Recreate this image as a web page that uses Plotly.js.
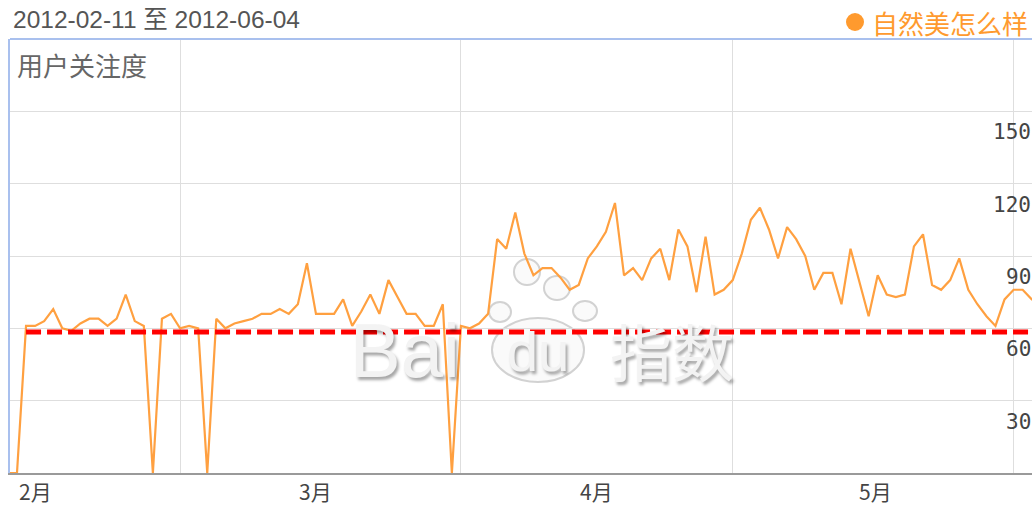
<!DOCTYPE html>
<html>
<head>
<meta charset="utf-8">
<script src="https://cdn.plot.ly/plotly-3.0.1.min.js"></script>
<style>
  html, body { margin: 0; padding: 0; background: #fff; }
  #chart { width: 1032px; height: 508px; }
</style>
</head>
<body>
<div id="chart"></div>
<script>
// Daily attention index for one search term
const startDate = '2012-02-11';
const endDate = '2012-06-04';
const seriesName = '自然美怎么样';
const yAxisName = '用户关注度';

const attention = [
  0, 0, 61, 61, 63, 68, 60, 59, 62, 64,
  64, 61, 64, 74, 63, 61, 0, 64, 66, 60,
  61, 60, 0, 64, 60, 62, 63, 64, 66, 66,
  68, 66, 70, 87, 66, 66, 66, 72, 61, 67,
  74, 66, 80, 73, 66, 66, 61, 61, 70, 0,
  61, 60, 62, 66, 97, 93, 108, 91, 82, 85,
  85, 81, 76, 78, 89, 94, 100, 112, 82, 85,
  80, 89, 93, 80, 101, 94, 75, 98, 74, 76,
  80, 91, 105, 110, 101, 89, 102, 97, 90, 76,
  83, 83, 70, 93, 79, 65, 82, 74, 73, 74,
  94, 99, 78, 76, 80, 89, 76, 70, 65, 61,
  72, 76, 76, 72, 70
];

// Month boundaries (grid) and month label positions
const monthStarts = ['2012-03-01', '2012-04-01', '2012-05-01', '2012-06-01'];
const monthLabelDates = ['2012-02-14', '2012-03-16', '2012-04-16', '2012-05-16 18:00'];
const monthLabels = ['2月', '3月', '4月', '5月'];

const yTickVals = [30, 60, 90, 120, 150];
const baselineValue = 58.5;
const baselineStart = '2012-02-13';

// consecutive calendar days from the start date
function dayList(start, n) {
  const out = [];
  const t0 = Date.parse(start + 'T00:00:00Z');
  for (let i = 0; i < n; i++) {
    out.push(new Date(t0 + i * 86400000).toISOString().slice(0, 10));
  }
  return out;
}
const days = dayList(startDate, attention.length);

// canvas geometry
const W = 1032, H = 508;
const M = { l: 10, r: 0, t: 39, b: 35 };
const plotW = W - M.l - M.r, plotH = H - M.t - M.b;
const px = x => (x - M.l) / plotW;          // pixel x -> paper x
const py = y => (H - M.b - y) / plotH;      // pixel y -> paper y

const orange = '#ffa040';
const gridColor = '#dedede';
const frameBlue = '#a9c0ee';

const trace = {
  x: days,
  y: attention,
  type: 'scatter',
  mode: 'lines',
  name: seriesName,
  line: { color: orange, width: 2.2 },
  hoverinfo: 'x+y',
  showlegend: false
};

// value labels sit just below their grid lines at the right edge
const yLabelAnnotations = yTickVals.map(v => ({
  xref: 'paper', yref: 'y', x: px(1033), y: v,
  xanchor: 'right', yanchor: 'middle', yshift: -21,
  text: String(v), showarrow: false,
  font: { family: 'DejaVu Sans Mono, monospace', size: 21, color: '#444' }
}));

// month names under the axis
const xLabelAnnotations = monthLabels.map((t, i) => ({
  xref: 'x', yref: 'paper', x: monthLabelDates[i], y: py(491),
  xanchor: 'center', yanchor: 'middle',
  text: t, showarrow: false,
  font: { family: 'Noto Sans CJK SC, sans-serif', size: 21, color: '#444' }
}));

const watermarkFont = (size, family) => ({
  family: family, size: size, color: '#f3f3f3',
  shadow: '2px 3px 3px rgba(0,0,0,0.35)'
});

const annotations = [
  {
    xref: 'paper', yref: 'paper', x: px(11), y: py(20),
    xanchor: 'left', yanchor: 'middle', showarrow: false,
    text: startDate + ' 至 ' + endDate,
    font: { family: 'Liberation Sans, Noto Sans CJK SC, sans-serif', size: 24.5, color: '#555' }
  },
  {
    xref: 'paper', yref: 'paper', x: px(15), y: py(64),
    xanchor: 'left', yanchor: 'middle', showarrow: false,
    text: yAxisName,
    font: { family: 'Noto Sans CJK SC, sans-serif', size: 26, color: '#666' }
  },
  {
    xref: 'paper', yref: 'paper', x: px(870), y: py(22),
    xanchor: 'left', yanchor: 'middle', showarrow: false,
    text: seriesName,
    font: { family: 'Noto Sans CJK SC, sans-serif', size: 26, color: '#ff9a2e' }
  },
  // watermark
  {
    xref: 'paper', yref: 'paper', x: px(405), y: py(350),
    xanchor: 'center', yanchor: 'middle', showarrow: false, text: 'Bai',
    font: watermarkFont(76, 'Liberation Sans, sans-serif')
  },
  {
    xref: 'paper', yref: 'paper', x: px(538), y: py(352),
    xanchor: 'center', yanchor: 'middle', showarrow: false, text: 'du',
    font: watermarkFont(56, 'Liberation Sans, sans-serif')
  },
  {
    xref: 'paper', yref: 'paper', x: px(672), y: py(350),
    xanchor: 'center', yanchor: 'middle', showarrow: false, text: '指数',
    font: watermarkFont(62, 'Noto Sans CJK SC, sans-serif')
  }
].concat(yLabelAnnotations, xLabelAnnotations);

function circlePx(cx, cy, rx, ry, opts) {
  return Object.assign({
    type: 'circle', xref: 'paper', yref: 'paper', layer: 'below',
    x0: px(cx - rx), x1: px(cx + rx), y0: py(cy + ry), y1: py(cy - ry),
    line: { color: '#d2d2d2', width: 2 }, fillcolor: 'rgba(250,250,250,0.9)'
  }, opts || {});
}

const shapes = [
  // paw outline of the watermark
  circlePx(538, 350, 46, 32),
  circlePx(500, 312, 11, 10),
  circlePx(527, 272, 13, 13),
  circlePx(557, 288, 13, 12),
  circlePx(585, 311, 12, 10),
  // top frame line
  {
    type: 'line', xref: 'paper', yref: 'paper', x0: 0, x1: 1, y0: 1, y1: 1,
    line: { color: frameBlue, width: 2 }
  },
  // legend dot
  {
    type: 'circle', xref: 'paper', yref: 'paper',
    x0: px(846), x1: px(864), y0: py(31), y1: py(13),
    line: { width: 0 }, fillcolor: '#ff9a2e'
  },
  // reference level
  {
    type: 'line', xref: 'x', yref: 'y', layer: 'above',
    x0: baselineStart, x1: endDate, y0: baselineValue, y1: baselineValue,
    line: { color: '#ff0000', width: 5, dash: '15px,6px' }
  }
];

const xRange = ['2012-02-11 05:31', '2012-06-03 00:43'];

const layout = {
  width: W, height: H,
  margin: M,
  paper_bgcolor: '#fff',
  plot_bgcolor: '#fff',
  showlegend: false,
  xaxis: {
    type: 'date', range: xRange,
    tickmode: 'array', tickvals: monthStarts,
    showticklabels: false, ticks: '',
    showgrid: true, gridcolor: gridColor, gridwidth: 1,
    showline: true, linecolor: '#9a9a9a', linewidth: 2,
    zeroline: false, fixedrange: true
  },
  yaxis: {
    range: [0, 180],
    tickmode: 'array', tickvals: yTickVals,
    showticklabels: false, ticks: '',
    showgrid: true, gridcolor: gridColor, gridwidth: 1,
    showline: true, linecolor: frameBlue, linewidth: 2,
    zeroline: false, fixedrange: true
  },
  annotations: annotations,
  shapes: shapes
};

Plotly.newPlot('chart', [trace], layout, { displayModeBar: false, staticPlot: true });
</script>
</body>
</html>
